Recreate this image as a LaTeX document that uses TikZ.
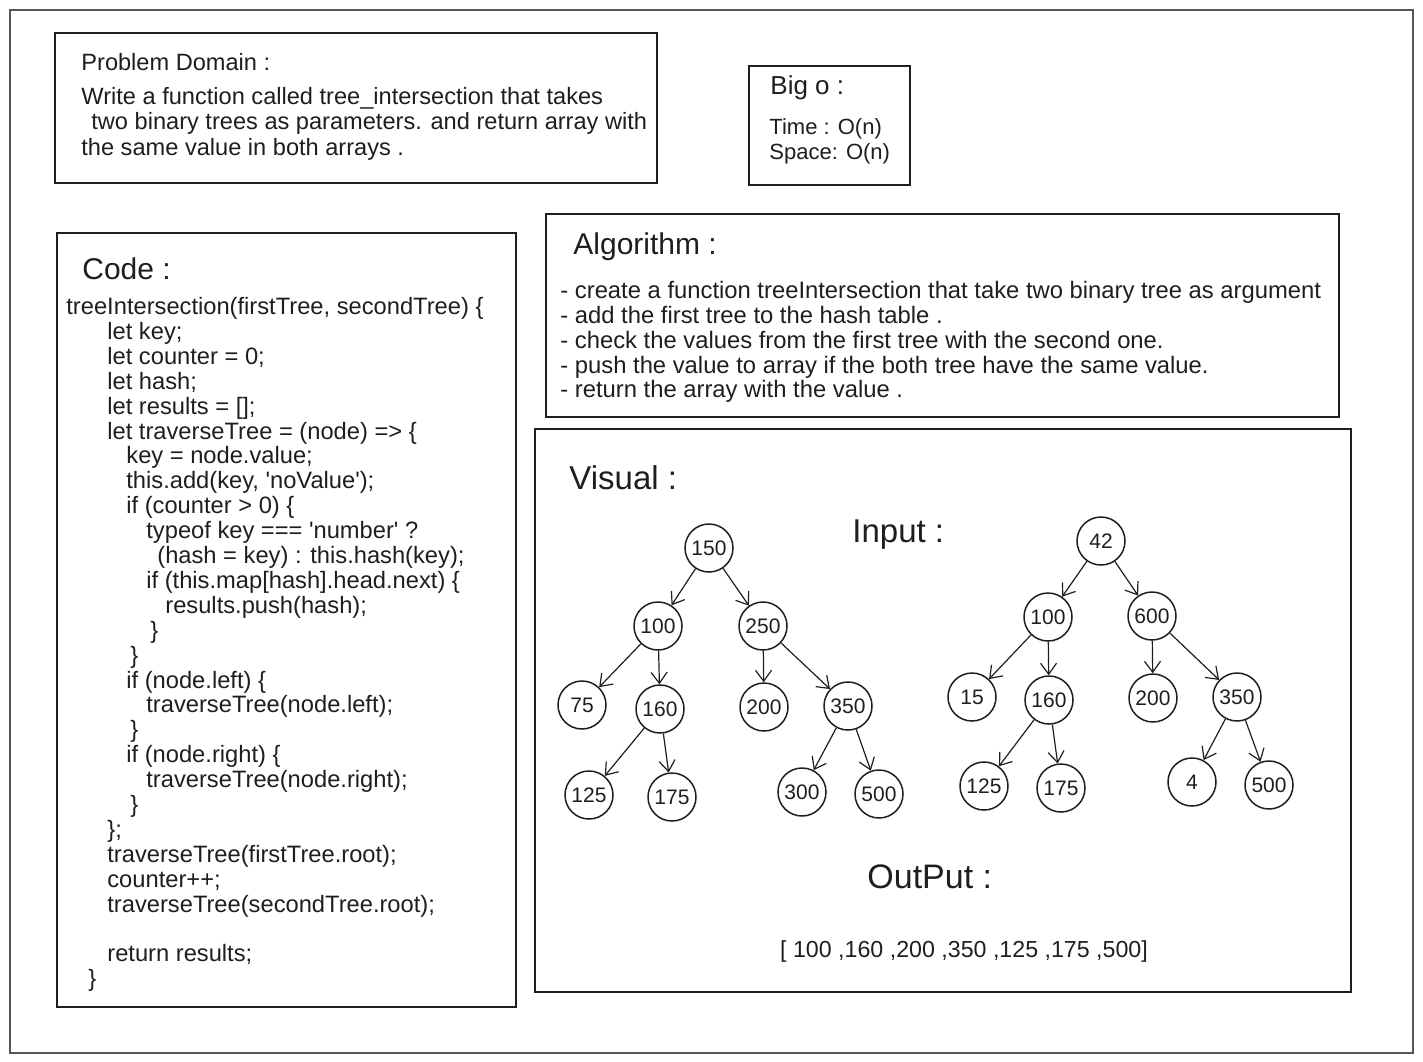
\documentclass[tikz,border=0pt]{standalone}
\usepackage{fontspec}
\setmainfont{Liberation Sans}
\usetikzlibrary{arrows.meta, positioning}
\definecolor{ink}{HTML}{1E1E1E}
\newcommand{\ind}[1]{\hspace*{#1pt}}

\begin{document}
\begin{tikzpicture}[x=0.5pt, y=-0.5pt,
  panel/.style  = {draw=ink, line width=0.8pt},
  title/.style  = {anchor=west, inner sep=0pt, text=ink, font=\fontsize{12}{14}\selectfont},
  body/.style   = {anchor=north west, inner sep=0pt, align=left, text=ink,
                   font=\fontsize{11.5}{12.6}\selectfont},
  vertex/.style = {draw=ink, circle, line width=0.75pt, minimum size=24pt, inner sep=0pt,
                   text=ink, font=\fontsize{10.5}{12}\selectfont},
  edge/.style   = {draw=ink, line width=0.6pt, -{Straight Barb[length=5.5pt, width=8pt]}}]

\useasboundingbox (0,0) rectangle (1423,1061);
\draw[draw=ink!75, line width=0.8pt] (10,10) rectangle (1413,1053);

% the panels
\draw[panel] (55,33) rectangle (657,183);
\draw[panel] (749,66) rectangle (910,185);
\draw[panel] (57,233) rectangle (516,1007);
\draw[panel] (546,214) rectangle (1339,417);
\draw[panel] (535,429) rectangle (1351,992);

% problem domain
\node[title, font=\fontsize{11.8}{14}\selectfont] (pdT) at (81,62) {Problem Domain :};
\node[body, font=\fontsize{11.8}{12.7}\selectfont] (pdB) at (81,87) {Write a function called tree\_intersection that takes\\
  \ind{5}two binary trees as parameters. and return array with\\
  the same value in both arrays .};

% big o
\node[title, font=\fontsize{13}{15}\selectfont] (boT) at (770,88) {Big o :};
\node[body, font=\fontsize{11}{12.5}\selectfont] (boB) at (769,118) {Time : O(n)\\Space: O(n)};

% code
\node[title, font=\fontsize{15}{17}\selectfont] (cdT) at (82,269) {Code :};
\node[body, font=\fontsize{11.85}{12.45}\selectfont] (cdB) at (66,297) {%
  treeIntersection(firstTree, secondTree) \{\\
  \ind{20.5}let key;\\
  \ind{20.5}let counter = 0;\\
  \ind{20.5}let hash;\\
  \ind{20.5}let results = [];\\
  \ind{20.5}let traverseTree = (node) => \{\\
  \ind{30}key = node.value;\\
  \ind{30}this.add(key, \textquotesingle noValue\textquotesingle);\\
  \ind{30}if (counter > 0) \{\\
  \ind{40}typeof key === \textquotesingle number\textquotesingle\ ?\\
  \ind{45.5}(hash = key) : this.hash(key);\\
  \ind{40}if (this.map[hash].head.next) \{\\
  \ind{49.5}results.push(hash);\\
  \ind{42}\}\\
  \ind{32}\}\\
  \ind{30}if (node.left) \{\\
  \ind{40}traverseTree(node.left);\\
  \ind{32}\}\\
  \ind{30}if (node.right) \{\\
  \ind{40}traverseTree(node.right);\\
  \ind{32}\}\\
  \ind{20.5}\};\\
  \ind{20.5}traverseTree(firstTree.root);\\
  \ind{20.5}counter++;\\
  \ind{20.5}traverseTree(secondTree.root);\\[12.45pt]
  \ind{20.5}return results;\\
  \ind{11}\}};

% algorithm
\node[title, font=\fontsize{15}{17}\selectfont] (alT) at (573,247) {Algorithm :};
\node[body, font=\fontsize{11.9}{12.4}\selectfont] (alB) at (560,281) {%
  - create a function treeIntersection that take two binary tree as argument\\
  - add the first tree to the hash table .\\
  - check the values from the first tree with the second one.\\
  - push the value to array if the both tree have the same value.\\
  - return the array with the value .};

% visual
\node[title, font=\fontsize{16.5}{19}\selectfont] (viT) at (569,478) {Visual :};
\node[title, font=\fontsize{16.5}{19}\selectfont] (inT) at (852,535) {Input :};
\node[title, font=\fontsize{17}{20}\selectfont] (ouT) at (867,877) {OutPut :};
\node[inner sep=0pt, text=ink, font=\fontsize{11.6}{14}\selectfont] (ouB) at (964,951)
  {[ 100 ,160 ,200 ,350 ,125 ,175 ,500]};

% first tree
\node[vertex] (a150) at (709,548) {150};
\node[vertex] (a100) at (658,626) {100};
\node[vertex] (a250) at (763,626) {250};
\node[vertex] (a75)  at (582,705) {75};
\node[vertex] (a160) at (660,709) {160};
\node[vertex] (a200) at (764,707) {200};
\node[vertex] (a350) at (848,706) {350};
\node[vertex] (a125) at (589,795) {125};
\node[vertex] (a175) at (672,797) {175};
\node[vertex] (a300) at (802,792) {300};
\node[vertex] (a500) at (879,794) {500};

% second tree
\node[vertex] (b42)  at (1101,541) {42};
\node[vertex] (b100) at (1048,617) {100};
\node[vertex] (b600) at (1152,616) {600};
\node[vertex] (b15)  at (972,697)  {15};
\node[vertex] (b160) at (1049,700) {160};
\node[vertex] (b200) at (1153,698) {200};
\node[vertex] (b350) at (1237,697) {350};
\node[vertex] (b125) at (984,786)  {125};
\node[vertex] (b175) at (1061,788) {175};
\node[vertex] (b4)   at (1192,782) {4};
\node[vertex] (b500) at (1269,785) {500};

% parent to child arrows
\foreach \p/\c in {a150/a100, a150/a250, a100/a75, a100/a160, a250/a200, a250/a350,
                   a160/a125, a160/a175, a350/a300, a350/a500}
  \draw[edge] (\p) -- (\c);

\foreach \p/\c in {b42/b100, b42/b600, b100/b15, b100/b160, b600/b200, b600/b350,
                   b160/b125, b160/b175, b350/b4, b350/b500}
  \draw[edge] (\p) -- (\c);

\end{tikzpicture}
\end{document}
